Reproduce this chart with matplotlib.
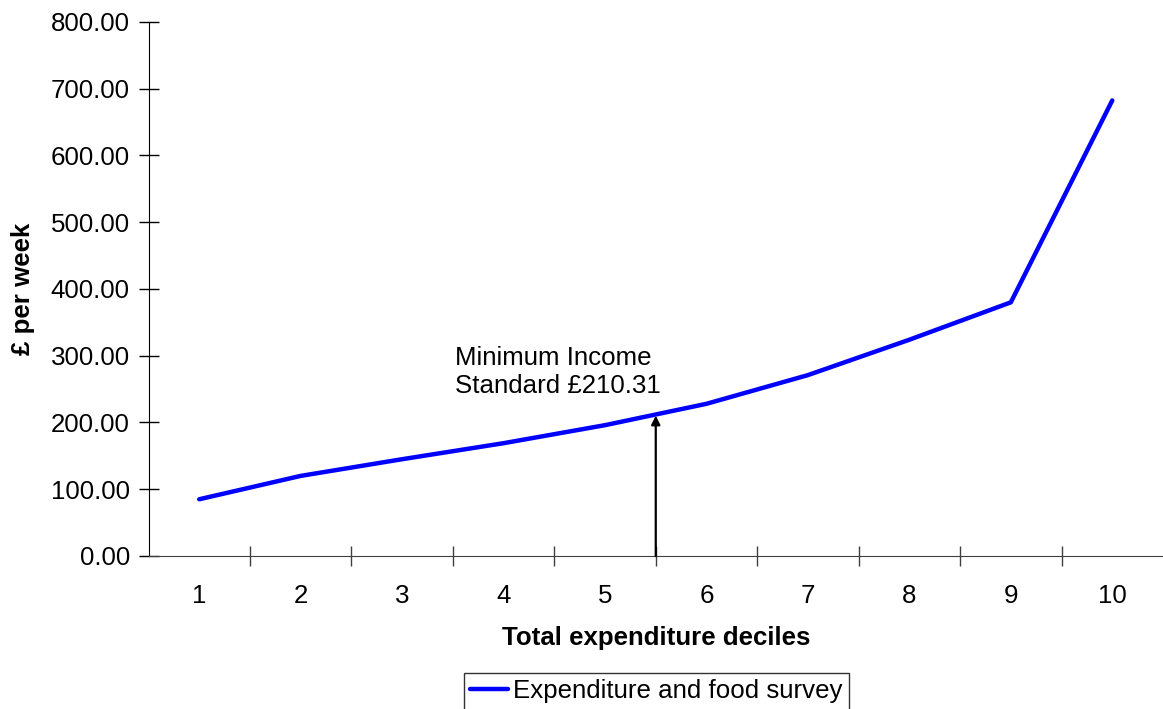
import numpy as np
import matplotlib.pyplot as plt

plt.rcParams['font.family'] = ['Liberation Sans', 'DejaVu Sans']

# weekly spend by total expenditure decile
deciles = [1, 2, 3, 4, 5, 6, 7, 8, 9, 10]
spend = [85.0, 120.0, 145.0, 169.0, 196.0, 228.0, 271.0, 324.0, 380.0, 682.5]
mis_value = 210.31
mis_pos = 5.5

fs = 18.6

fig = plt.figure(figsize=(11.63, 7.09), dpi=100)
ax = fig.add_axes([0.1277, 0.2158, 0.8723, 0.7532])

ax.plot(deciles, spend, color='#0000FF', lw=3.2, solid_capstyle='round',
        label='Expenditure and food survey')

ax.annotate('', xy=(mis_pos, mis_value), xytext=(mis_pos, 0),
            arrowprops=dict(arrowstyle='-|>', color='black', lw=1.6,
                            mutation_scale=13, shrinkA=0, shrinkB=0))
ax.text(3.52, 276, 'Minimum Income\nStandard £210.31', fontsize=fs,
        ha='left', va='center', linespacing=1.22)

ax.set_xlim(0.5, 10.5)
ax.set_ylim(0, 800)
ax.set_yticks(np.arange(0, 801, 100))
ax.set_yticklabels([f'{v:.2f}' for v in np.arange(0, 801, 100)])
ax.set_xticks(deciles)
ax.set_xticklabels([str(d) for d in deciles])
ax.set_xticks(np.arange(1.5, 10, 1), minor=True)

ax.tick_params(axis='y', direction='inout', length=15, width=1, labelsize=fs, pad=6)
ax.tick_params(axis='x', which='major', length=0, labelsize=fs, pad=20)
ax.tick_params(axis='x', which='minor', direction='inout', length=15, width=1,
               color='#404040')

for s in ['top', 'right']:
    ax.spines[s].set_visible(False)
ax.spines['bottom'].set_color('#404040')
ax.spines['left'].set_color('black')

ax.set_xlabel('Total expenditure deciles', fontsize=fs, fontweight='bold', labelpad=13)
ax.set_ylabel('£ per week', fontsize=fs, fontweight='bold', labelpad=11)

leg = fig.legend(loc='upper center', bbox_to_anchor=(0.5645, 0.051), fontsize=fs,
                 frameon=True, fancybox=False, handlelength=1.45, handletextpad=0.2,
                 borderpad=0.25, borderaxespad=0)
leg.get_frame().set_edgecolor('black')
leg.get_frame().set_linewidth(1)

fig.savefig('out.png', dpi=100)
